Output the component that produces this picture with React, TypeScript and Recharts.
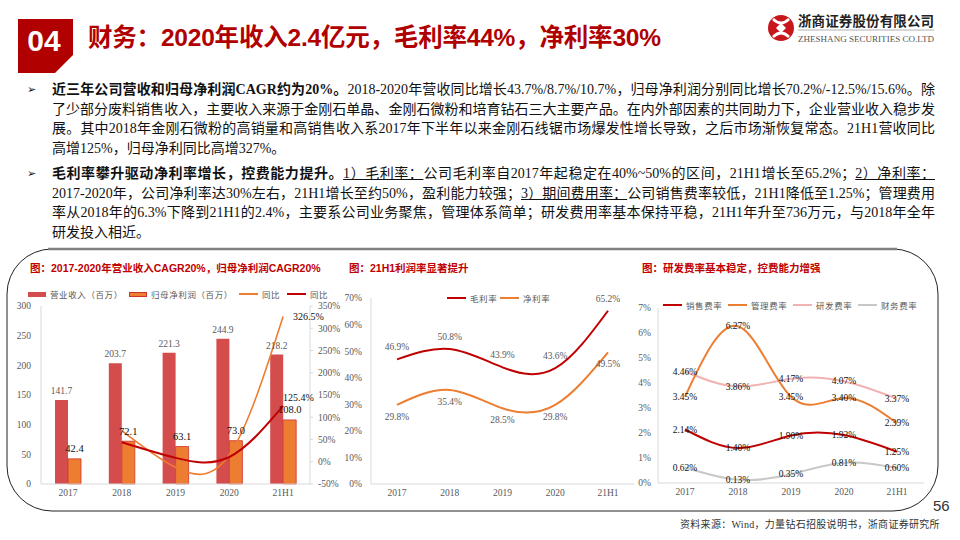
import React from 'react';
import { ComposedChart, Bar, Line, XAxis, YAxis, LabelList } from 'recharts';

const SERIF = "'Liberation Serif', 'Noto Sans CJK SC', serif";
const SANS = "'Liberation Sans', 'Noto Sans CJK SC', sans-serif";

// categories
const years = ['2017', '2018', '2019', '2020', '21H1'];

// chart 1: revenue / net profit (million yuan) and yoy (%)
const revenue = [141.7, 203.7, 221.3, 244.9, 218.2];
const netProfit = [42.4, 72.1, 63.1, 73.0, 108.0];
const revenueYoy = [null, 43.7, 8.7, 10.7, 125.4];
const netProfitYoy = [null, 70.2, -12.5, 15.6, 326.5];
const leftTicks1 = [0, 50, 100, 150, 200, 250, 300];
const rightTicks1 = [-50, 0, 50, 100, 150, 200, 250, 300, 350];

// chart 2: margins (%)
const grossMargin = [46.9, 50.8, 43.9, 43.6, 65.2];
const netMargin = [29.8, 35.4, 28.5, 29.8, 49.5];
const ticks2 = [0, 10, 20, 30, 40, 50, 60, 70];

// chart 3: expense ratios (%)
const salesRate = [2.14, 1.40, 1.90, 1.92, 1.25];
const adminRate = [3.45, 6.27, 3.45, 3.40, 2.39];
const rdRate = [4.46, 3.86, 4.17, 4.07, 3.37];
const finRate = [0.62, 0.13, 0.35, 0.81, 0.60];
const ticks3 = [0, 1, 2, 3, 4, 5, 6, 7];

const last = years.length - 1;
const table1 = years.map((year, i) => ({
  year,
  revenue: revenue[i],
  netProfit: netProfit[i],
  revenueYoy: revenueYoy[i],
  netProfitYoy: netProfitYoy[i],
  revenueYoyLast: i === last ? revenueYoy[i] : null,
  netProfitYoyLast: i === last ? netProfitYoy[i] : null,
}));
const table2 = years.map((year, i) => ({ year, gross: grossMargin[i], net: netMargin[i] }));
const table3 = years.map((year, i) => ({
  year,
  sales: salesRate[i],
  admin: adminRate[i],
  rd: rdRate[i],
  fin: finRate[i],
}));

const RED = '#c00000';
const BAR_RED = '#d44c4c';
const ORANGE = '#ed7d31';
const PINK = '#f2b2b2';
const GREY_LINE = '#c8c8c8';
const AXIS = '#d9d9d9';
const TICK = '#595959';

const tick = { fontSize: 9.5, fill: TICK, fontFamily: SERIF };

const barLabel = (fill: string, size: number, dy: number) => (p: any) => {
  if (p.value == null) return null;
  return (
    <text x={p.x + p.width / 2} y={p.y + dy} fill={fill} fontSize={size} fontFamily={SERIF}
      textAnchor="middle" dominantBaseline="central">
      {Number(p.value).toFixed(1)}
    </text>
  );
};

const pointLabel = (fill: string, size: number, dx: number, dy: number, digits: number, anchor = 'middle') => (p: any) => {
  if (p.value == null) return null;
  return (
    <text x={p.x + dx} y={p.y + dy} fill={fill} fontSize={size} fontFamily={SERIF}
      textAnchor={anchor} dominantBaseline="central">
      {Number(p.value).toFixed(digits)}%
    </text>
  );
};

const LegendItem = ({ x, y, color, kind, label, border }: any) => (
  <div style={{ position: 'absolute', left: x, top: y - 6, height: 12, display: 'flex', alignItems: 'center', whiteSpace: 'nowrap' }}>
    <div style={{
      width: kind === 'rect' ? 18 : 19,
      height: kind === 'rect' ? 5 : 2.5,
      background: color,
      border: border ? `1px solid ${border}` : 'none',
      boxSizing: 'border-box',
      marginRight: 4,
    }} />
    <span style={{ fontSize: 8.5, color: TICK, letterSpacing: 0.6, fontFamily: SERIF }}>{label}</span>
  </div>
);

const ChartTitle = ({ x, text }: any) => (
  <div style={{ position: 'absolute', left: x, top: 261, fontSize: 10.5, fontWeight: 700, color: RED, fontFamily: SANS, whiteSpace: 'nowrap', lineHeight: '14px' }}>
    {text}
  </div>
);

const line = (top: number, content: React.ReactNode, justify = true) => (
  <div style={{
    position: 'absolute', left: 52, top, width: 883, height: 20, lineHeight: '20px',
    textAlign: justify ? 'justify' : 'left', textAlignLast: justify ? 'justify' : 'left',
    whiteSpace: 'nowrap', overflow: 'visible',
  }}>{content}</div>
);

const U = ({ children }: any) => <span style={{ textDecoration: 'underline' }}>{children}</span>;

export default function App() {
  return (
    <div style={{ position: 'absolute', left: 0, top: 0, width: 960, height: 540, background: '#fff', overflow: 'hidden', fontFamily: SERIF, color: '#111' }}>
      {/* header */}
      <svg width={960} height={540} style={{ position: 'absolute', left: 0, top: 0 }}>
        <polygon points="18,19 73,19 73,55 55,73 18,73" fill="#b00000" />
        <text x={44} y={40} fill="#fff" fontSize={30} fontWeight={700} fontFamily={SANS} textAnchor="middle" dominantBaseline="central">04</text>
        {/* logo */}
        <circle cx={781} cy={28} r={13} fill="#c8161d" />
        <path d="M773,19 Q781,27 789,19 M773,37 Q781,29 789,37" stroke="#fff" strokeWidth={2.6} fill="none" />
        <path d="M776,28 L781,23 L786,28 L781,33 Z" fill="#fff" />
        <line x1={798} y1={30} x2={934} y2={30} stroke="#b0b0b0" strokeWidth={1} />
        <text x={798} y={38.5} fontSize={9} fontFamily={SERIF} fill="#555" textLength={136} lengthAdjust="spacingAndGlyphs" dominantBaseline="central">ZHESHANG SECURITIES CO.LTD</text>
        {/* frame */}
        <path d="M52,249 L893,249 A45,45 0 0 1 938,294 L938,466 A45,45 0 0 1 893,511 L52,511 A45,45 0 0 1 7,466 L7,294 A45,45 0 0 1 52,249 Z" fill="none" stroke="#222" strokeWidth={1} />
        <line x1={48} y1={249} x2={897} y2={249} stroke="#808080" strokeWidth={2.5} />
      </svg>
      <div style={{ position: 'absolute', left: 88, top: 22, fontSize: 24.5, fontWeight: 700, color: '#b00000', fontFamily: SANS, whiteSpace: 'nowrap', lineHeight: '32px', letterSpacing: -0.2 }}>
        财务：2020年收入2.4亿元，毛利率44%，净利率30%
      </div>
      <div style={{ position: 'absolute', left: 798, top: 14, width: 136, fontSize: 13.5, fontWeight: 700, fontFamily: SANS, color: '#222', lineHeight: '16px', textAlign: 'justify', textAlignLast: 'justify' }}>
        浙商证券股份有限公司
      </div>

      {/* body text */}
      <div style={{ fontSize: 14, fontFamily: SERIF, color: '#111' }}>
        <div style={{ position: 'absolute', left: 27, top: 82, fontSize: 11, fontFamily: "'DejaVu Sans'", lineHeight: '16px' }}>➢</div>
        {line(80, <><b>近三年公司营收和归母净利润CAGR约为20%。</b>2018-2020年营收同比增长43.7%/8.7%/10.7%，归母净利润分别同比增长70.2%/-12.5%/15.6%。除</>)}
        {line(99.5, <>了少部分废料销售收入，主要收入来源于金刚石单晶、金刚石微粉和培育钻石三大主要产品。在内外部因素的共同助力下，企业营业收入稳步发</>)}
        {line(119, <>展。其中2018年金刚石微粉的高销量和高销售收入系2017年下半年以来金刚石线锯市场爆发性增长导致，之后市场渐恢复常态。21H1营收同比</>)}
        {line(138.5, <>高增125%，归母净利同比高增327%。</>, false)}
        <div style={{ position: 'absolute', left: 27, top: 166, fontSize: 11, fontFamily: "'DejaVu Sans'", lineHeight: '16px' }}>➢</div>
        {line(164, <><b>毛利率攀升驱动净利率增长，控费能力提升。</b><U>1）毛利率：</U>公司毛利率自2017年起稳定在40%~50%的区间，21H1增长至65.2%；<U>2）净利率：</U></>)}
        {line(183.5, <>2017-2020年，公司净利率达30%左右，21H1增长至约50%，盈利能力较强；<U>3）期间费用率：</U>公司销售费率较低，21H1降低至1.25%；管理费用</>)}
        {line(203, <>率从2018年的6.3%下降到21H1的2.4%，主要系公司业务聚焦，管理体系简单；研发费用率基本保持平稳，21H1年升至736万元，与2018年全年</>)}
        {line(222.5, <>研发投入相近。</>, false)}
      </div>

      {/* chart titles */}
      <ChartTitle x={30} text="图：2017-2020年营业收入CAGR20%，归母净利润CAGR20%" />
      <ChartTitle x={349} text="图：21H1利润率显著提升" />
      <ChartTitle x={642} text="图：研发费率基本稳定，控费能力增强" />

      {/* legends */}
      <LegendItem x={28} y={294} color={BAR_RED} kind="rect" label="营业收入（百万）" />
      <LegendItem x={129} y={294} color={ORANGE} kind="rect" border="#d2302a" label="归母净利润（百万）" />
      <LegendItem x={239} y={294} color={ORANGE} kind="line" label="同比" />
      <LegendItem x={287} y={294} color={RED} kind="line" label="同比" />

      <LegendItem x={447} y={298} color={RED} kind="line" label="毛利率" />
      <LegendItem x={500} y={298} color={ORANGE} kind="line" label="净利率" />

      <LegendItem x={663} y={305} color={RED} kind="line" label="销售费率" />
      <LegendItem x={728} y={305} color={ORANGE} kind="line" label="管理费率" />
      <LegendItem x={793} y={305} color={PINK} kind="line" label="研发费率" />
      <LegendItem x={858} y={305} color={GREY_LINE} kind="line" label="财务费率" />

      {/* chart 1 */}
      <div style={{ position: 'absolute', left: 0, top: 285 }}>
        <ComposedChart width={350} height={215} data={table1} margin={{ top: 21, right: 0, bottom: 0, left: 0 }} barGap={0} barCategoryGap="26%">
          <XAxis dataKey="year" height={16} interval={0} tickLine={false} axisLine={{ stroke: AXIS }} tick={tick} tickSize={3} tickMargin={2} />
          <YAxis yAxisId="l" domain={[0, 300]} ticks={leftTicks1} width={41} tickLine={false} axisLine={{ stroke: AXIS }} tick={tick} tickMargin={4} />
          <YAxis yAxisId="r" orientation="right" domain={[-50, 350]} ticks={rightTicks1} width={40}
            tickLine={{ stroke: AXIS }} tickSize={3} tickMargin={5} axisLine={{ stroke: AXIS }} tick={tick} tickFormatter={(v: number) => `${v}%`} />
          <Bar yAxisId="l" dataKey="revenue" fill={BAR_RED} barSize={13} isAnimationActive={false}>
            <LabelList dataKey="revenue" content={barLabel(TICK, 9.5, -9)} />
          </Bar>
          <Bar yAxisId="l" dataKey="netProfit" fill={ORANGE} stroke="#d2302a" strokeWidth={0.8} barSize={13} isAnimationActive={false}>
            <LabelList dataKey="netProfit" content={barLabel('#111', 10.5, -10)} />
          </Bar>
          <Line yAxisId="r" type="natural" dataKey="netProfitYoy" stroke={ORANGE} strokeWidth={1.6} dot={false} isAnimationActive={false}>
            <LabelList dataKey="netProfitYoyLast" content={pointLabel('#111', 10, 10, 0, 1, 'start')} />
          </Line>
          <Line yAxisId="r" type="natural" dataKey="revenueYoy" stroke={RED} strokeWidth={2} dot={false} isAnimationActive={false}>
            <LabelList dataKey="revenueYoyLast" content={pointLabel('#111', 10, 0, -8, 1, 'start')} />
          </Line>
        </ComposedChart>
      </div>

      {/* chart 2 */}
      <div style={{ position: 'absolute', left: 330, top: 285 }}>
        <ComposedChart width={310} height={215} data={table2} margin={{ top: 13, right: 6, bottom: 0, left: 0 }}>
          <XAxis dataKey="year" height={16} interval={0} padding={{ left: 26, right: 26 }} tickLine={false} axisLine={{ stroke: AXIS }} tick={tick} tickSize={3} tickMargin={2} />
          <YAxis domain={[0, 70]} ticks={ticks2} width={41} tickLine={false} axisLine={{ stroke: AXIS }} tick={tick} tickMargin={3} tickFormatter={(v: number) => `${v}%`} />
          <Line type="natural" dataKey="gross" stroke={RED} strokeWidth={2} dot={false} isAnimationActive={false}>
            <LabelList dataKey="gross" content={pointLabel(TICK, 9.5, 0, -12, 1)} />
          </Line>
          <Line type="natural" dataKey="net" stroke={ORANGE} strokeWidth={2} dot={false} isAnimationActive={false}>
            <LabelList dataKey="net" content={pointLabel(TICK, 9.5, 0, 12, 1)} />
          </Line>
        </ComposedChart>
      </div>

      {/* chart 3 */}
      <div style={{ position: 'absolute', left: 625, top: 285 }}>
        <ComposedChart width={305} height={214} data={table3} margin={{ top: 23, right: 6, bottom: 0, left: 0 }}>
          <XAxis dataKey="year" height={16} interval={0} padding={{ left: 27, right: 27 }} tickLine={false} axisLine={{ stroke: AXIS }} tick={tick} tickSize={3} tickMargin={2} />
          <YAxis domain={[0, 7]} ticks={ticks3} width={33} tickLine={false} axisLine={{ stroke: AXIS }} tick={tick} tickMargin={1} tickFormatter={(v: number) => `${v}%`} />
          <Line type="natural" dataKey="fin" stroke={GREY_LINE} strokeWidth={2} dot={false} isAnimationActive={false}>
            <LabelList dataKey="fin" content={pointLabel('#111', 9.5, 0, 0, 2)} />
          </Line>
          <Line type="natural" dataKey="rd" stroke={PINK} strokeWidth={2} dot={false} isAnimationActive={false}>
            <LabelList dataKey="rd" content={pointLabel('#111', 9.5, 0, 0, 2)} />
          </Line>
          <Line type="natural" dataKey="admin" stroke={ORANGE} strokeWidth={2} dot={false} isAnimationActive={false}>
            <LabelList dataKey="admin" content={pointLabel('#111', 9.5, 0, 0, 2)} />
          </Line>
          <Line type="natural" dataKey="sales" stroke={RED} strokeWidth={2} dot={false} isAnimationActive={false}>
            <LabelList dataKey="sales" content={pointLabel('#111', 9.5, 0, 0, 2)} />
          </Line>
        </ComposedChart>
      </div>

      {/* footer */}
      <div style={{ position: 'absolute', left: 933, top: 497, fontSize: 15, fontFamily: SANS, color: '#333', lineHeight: '18px' }}>56</div>
      <div style={{ position: 'absolute', left: 680, top: 518, fontSize: 10, fontFamily: SERIF, color: '#333', whiteSpace: 'nowrap', lineHeight: '14px', letterSpacing: 0.3 }}>
        资料来源：Wind，力量钻石招股说明书，浙商证券研究所
      </div>
    </div>
  );
}
